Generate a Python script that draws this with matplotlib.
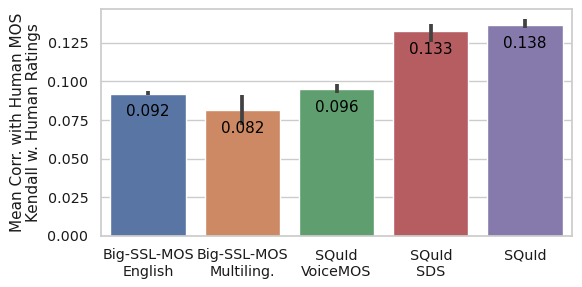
import numpy as np
import matplotlib
matplotlib.use("Agg")
import matplotlib.pyplot as plt
import seaborn as sns

sns.set_theme(style="whitegrid")
plt.rcParams['font.family'] = ['DejaVu Sans']

# data
models = ["Big-SSL-MOS\nEnglish", "Big-SSL-MOS\nMultiling.", "SQuId\nVoiceMOS", "SQuId\nSDS", "SQuId"]
means = [0.092, 0.0815, 0.095, 0.1325, 0.1365]
ci_low = [0.0915, 0.072, 0.0926, 0.1257, 0.1347]
ci_high = [0.094, 0.0913, 0.0984, 0.137, 0.1405]
labels = ["0.092", "0.082", "0.096", "0.133", "0.138"]

colors = [sns.desaturate(c, 0.75) for c in sns.color_palette("deep", 5)]

fig, ax = plt.subplots(figsize=(5.82, 2.87), dpi=100)
fig.subplots_adjust(left=0.1735, right=0.983, top=0.969, bottom=0.178)

x = np.arange(len(models))
ax.bar(x, means, width=0.8, color=colors, zorder=2)

means_a = np.array(means)
yerr = np.vstack([means_a - np.array(ci_low), np.array(ci_high) - means_a])
ax.errorbar(x, means, yerr=yerr, fmt='none', ecolor='.26', elinewidth=2.7, capsize=0, zorder=3)

for xi, m, lab in zip(x, means, labels):
    ax.annotate(lab, (xi, m), xytext=(0, -13), textcoords='offset points',
                ha='center', va='center', fontsize=11, color='black', zorder=4)

ax.set_xlim(-0.5, len(models) - 0.5)
ax.set_ylim(0, 0.147)
ax.set_yticks([0.0, 0.025, 0.05, 0.075, 0.1, 0.125])
ax.set_yticklabels(["0.000", "0.025", "0.050", "0.075", "0.100", "0.125"])
ax.set_xticks(x)
ax.set_xticklabels(models)
ax.tick_params(labelsize=10.3, pad=3, labelcolor='0.1')
ax.set_ylabel("Mean Corr. with Human MOS\nKendall w. Human Ratings", fontsize=11,
              linespacing=1.05, color='0.1', labelpad=5)
ax.xaxis.grid(False)

plt.savefig("out.png", dpi=100)
